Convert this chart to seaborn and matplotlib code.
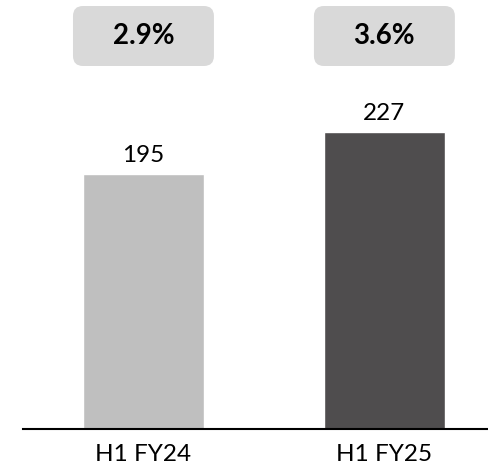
import matplotlib
matplotlib.use("Agg")
import matplotlib.pyplot as plt
import seaborn as sns
from matplotlib.patches import FancyBboxPatch
from matplotlib.transforms import IdentityTransform

periods = ["H1 FY24", "H1 FY25"]
values = [195, 227]
margins = ["2.9%", "3.6%"]
bar_colors = ["#bfbfbf", "#4f4d4e"]

sns.set_style("white")
plt.rcParams['font.family'] = ['Lato', 'DejaVu Sans']
plt.rcParams['text.color'] = 'black'
plt.rcParams['xtick.color'] = 'black'

fig = plt.figure(figsize=(4.88, 4.67), dpi=100)
ax = fig.add_axes([23 / 488, 38 / 467, 465 / 488, 429 / 467])

sns.barplot(x=periods, y=values, hue=periods, palette=bar_colors,
            width=0.502, saturation=1, legend=False, ax=ax)

ax.set_xlim(-0.5, 1.43)
ax.set_ylim(0, 328)
ax.set_yticks([])
ax.set_ylabel("")
for s in ["top", "right", "left"]:
    ax.spines[s].set_visible(False)
ax.spines["bottom"].set_color("black")
ax.spines["bottom"].set_linewidth(1.5)
ax.tick_params(axis="x", length=0, pad=11, labelsize=17.5, labelcolor="black")

for c in ax.containers:
    ax.bar_label(c, fmt="%d", padding=6, fontsize=17.5, color="black")

# margin boxes above the bars
fig.canvas.draw()
for i, m in enumerate(margins):
    x0, _ = ax.transData.transform((i - 0.2925, 0))
    x1, _ = ax.transData.transform((i + 0.2925, 0))
    y0, y1 = 467 - 66, 467 - 6
    box = FancyBboxPatch((x0, y0), x1 - x0, y1 - y0,
                         boxstyle="round,pad=0,rounding_size=10",
                         facecolor="#d9d9d9", edgecolor="none",
                         transform=IdentityTransform())
    fig.add_artist(box)
    fig.text((x0 + x1) / 2 / 488, (y0 + y1) / 2 / 467, m, ha="center", va="center",
             fontsize=20, fontweight="bold", color="black")

fig.savefig("out.png", dpi=100)
